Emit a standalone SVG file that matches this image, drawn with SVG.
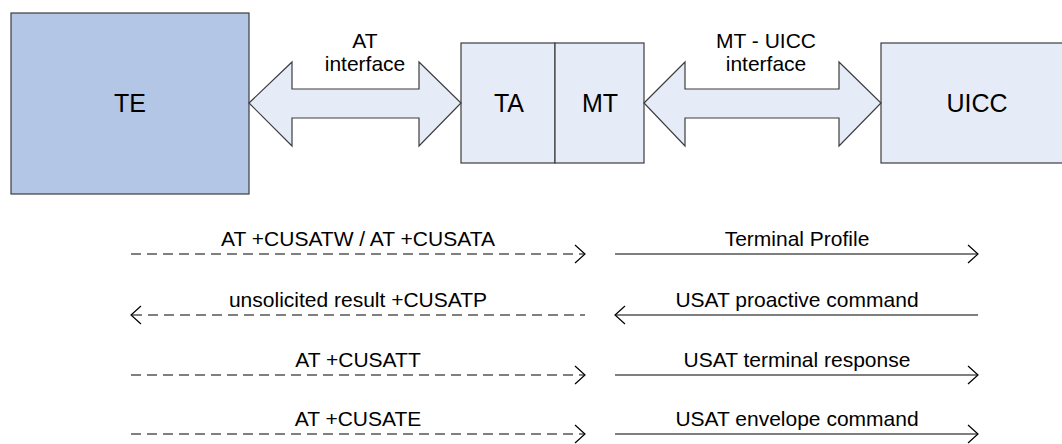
<svg xmlns="http://www.w3.org/2000/svg" width="1062" height="444" viewBox="0 0 1062 444">
<style>
text{font-family:"Liberation Sans",Arial,sans-serif;fill:#000;text-anchor:middle}
.box{stroke:#3c3c3c;stroke-width:1.2}
.lt{fill:#e6ecf7}
.big{font-size:25px}
.mid{font-size:21px}
.lbl{font-size:21px}
.sol{stroke:#000;stroke-width:1.2;fill:none}
.dsh{stroke:#000;stroke-width:1.2;fill:none;stroke-dasharray:10 6}
.hd{stroke:#000;stroke-width:1.2;fill:none}
</style>
<rect width="1062" height="444" fill="#fff"/>
<g id="TE">
<rect class="box" x="11" y="13" width="238" height="181" fill="#b3c6e5"/>
<text class="big" x="130" y="112">TE</text>
</g>
<g id="TA">
<rect class="box lt" x="461" y="43" width="94" height="120"/>
<text class="big" x="509" y="112">TA</text>
</g>
<g id="MT">
<rect class="box lt" x="555" y="43" width="89" height="120"/>
<text class="big" x="600" y="112">MT</text>
</g>
<g id="UICC">
<rect class="box lt" x="881" y="43" width="190" height="120"/>
<text class="big" x="977" y="112">UICC</text>
</g>
<g id="connectors">
<g id="at-interface">
<polygon class="box lt" stroke-width="1" points="249,103 292,62 292,89 419,89 419,62 461,103 419,146 419,118 292,118 292,146"/>
<text class="mid" x="365" y="48">AT</text>
<text class="mid" x="365" y="71">interface</text>
</g>
<g id="mt-uicc-interface">
<polygon class="box lt" stroke-width="1" points="644,103 685,62 685,89 839,89 839,62 881,103 839,146 839,118 685,118 685,146"/>
<text class="mid" x="766" y="48">MT - UICC</text>
<text class="mid" x="766" y="71">interface</text>
</g>
<g id="row1">
<line class="dsh" x1="131" y1="254" x2="584" y2="254"/>
<polyline class="hd" points="575,245 585,254 575,263"/>
<text class="lbl" x="358" y="246">AT +CUSATW / AT +CUSATA</text>
<line class="sol" x1="615" y1="254" x2="977" y2="254"/>
<polyline class="hd" points="968,245 978,254 968,263"/>
<text class="lbl" x="797" y="246">Terminal Profile</text>
</g>
<g id="row2">
<line class="dsh" x1="132" y1="315" x2="585" y2="315"/>
<polyline class="hd" points="141,306 131,315 141,324"/>
<text class="lbl" x="358" y="307">unsolicited result +CUSATP</text>
<line class="sol" x1="616" y1="315" x2="978" y2="315"/>
<polyline class="hd" points="625,306 615,315 625,324"/>
<text class="lbl" x="797" y="307">USAT proactive command</text>
</g>
<g id="row3">
<line class="dsh" x1="131" y1="375" x2="584" y2="375"/>
<polyline class="hd" points="575,366 585,375 575,384"/>
<text class="lbl" x="358" y="367">AT +CUSATT</text>
<line class="sol" x1="615" y1="375" x2="977" y2="375"/>
<polyline class="hd" points="968,366 978,375 968,384"/>
<text class="lbl" x="797" y="367">USAT terminal response</text>
</g>
<g id="row4">
<line class="dsh" x1="131" y1="434" x2="584" y2="434"/>
<polyline class="hd" points="575,425 585,434 575,443"/>
<text class="lbl" x="358" y="426">AT +CUSATE</text>
<line class="sol" x1="615" y1="434" x2="977" y2="434"/>
<polyline class="hd" points="968,425 978,434 968,443"/>
<text class="lbl" x="797" y="426">USAT envelope command</text>
</g>
</g>
</svg>
